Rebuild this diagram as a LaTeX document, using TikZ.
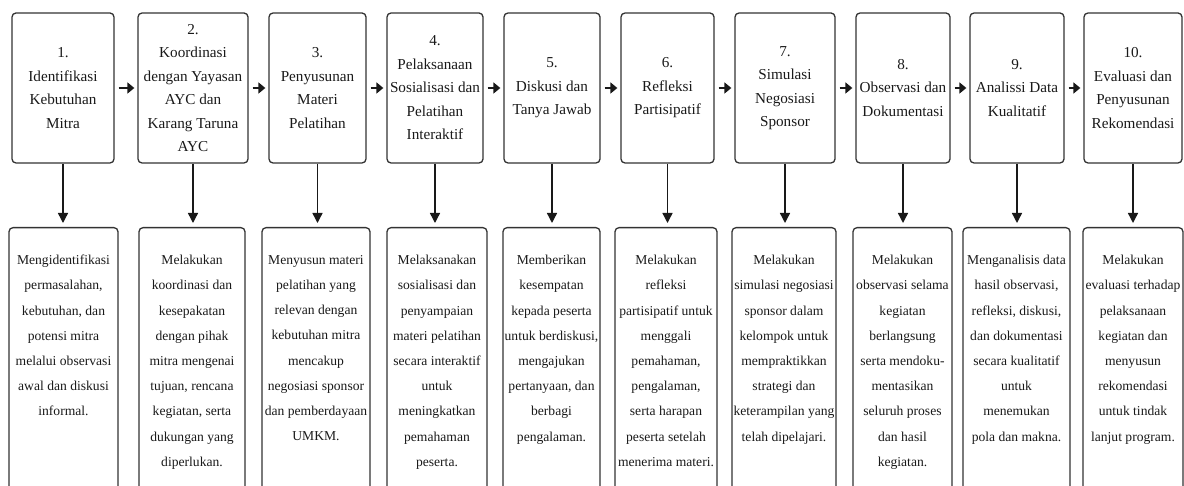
\documentclass[tikz,border=0pt]{standalone}
\usepackage{fontspec}
\setmainfont{Liberation Serif}
\usetikzlibrary{arrows.meta, positioning}

\begin{document}
\begin{tikzpicture}[x=1pt,y=-1pt]
    \tikzstyle{phase box}=[draw=black!80, line width=1.3pt, rounded corners=4pt, inner sep=0pt, minimum height=150pt, align=center, text=black!90, font=\fontsize{15.2}{23.5}\selectfont]
    \tikzstyle{desc box}=[draw=black!80, line width=1.3pt, rounded corners=4pt, inner sep=0pt, minimum height=300pt, anchor=north]
    \tikzstyle{desc text}=[inner sep=0pt, align=center, text=black!90, font=\fontsize{13.6}{25.2}\selectfont]
    \tikzstyle{next arrow}=[-{Triangle[length=7pt,width=11pt]}, line width=2.6pt, black!90, shorten <=4pt, shorten >=3pt]
    \tikzstyle{down arrow}=[-{Triangle[length=10pt,width=10pt]}, line width=1.4pt, black!90, shorten >=4pt]

    \clip (0,0) rectangle (1184,486);

    % Draw the phase boxes
    \foreach \i / \cx / \w / \txt in {
        1/63/102/{1.\\Identifikasi\\Kebutuhan\\Mitra},
        2/193/110/{2.\\Koordinasi\\dengan Yayasan\\AYC dan\\Karang Taruna\\AYC},
        3/317.5/97/{3.\\Penyusunan\\Materi\\Pelatihan},
        4/435/96/{4.\\Pelaksanaan\\Sosialisasi dan\\Pelatihan\\Interaktif},
        5/552/96/{5.\\Diskusi dan\\Tanya Jawab},
        6/667.5/93/{6.\\Refleksi\\Partisipatif},
        7/785/100/{7.\\Simulasi\\Negosiasi\\Sponsor},
        8/903/94/{8.\\Observasi dan\\Dokumentasi},
        9/1017/94/{9.\\Analissi Data\\Kualitatif},
        10/1133/98/{10.\\Evaluasi dan\\Penyusunan\\Rekomendasi}}
        \node[phase box, minimum width=\w pt] (T-\i) at (\cx,88) {\txt};

    % Draw the description boxes
    \foreach \i / \cx / \w / \txt in {
        1/63.5/109/{Mengidentifikasi\\permasalahan,\\kebutuhan, dan\\potensi mitra\\melalui observasi\\awal dan diskusi\\informal.},
        2/192/106/{Melakukan\\koordinasi dan\\kesepakatan\\dengan pihak\\mitra mengenai\\tujuan, rencana\\kegiatan, serta\\dukungan yang\\diperlukan.},
        3/316/108/{Menyusun materi\\pelatihan yang\\relevan dengan\\kebutuhan mitra\\mencakup\\negosiasi sponsor\\dan pemberdayaan\\UMKM.},
        4/437/100/{Melaksanakan\\sosialisasi dan\\penyampaian\\materi pelatihan\\secara interaktif\\untuk\\meningkatkan\\pemahaman\\peserta.},
        5/551.5/97/{Memberikan\\kesempatan\\kepada peserta\\untuk berdiskusi,\\mengajukan\\pertanyaan, dan\\berbagi\\pengalaman.},
        6/666/102/{Melakukan\\refleksi\\partisipatif untuk\\menggali\\pemahaman,\\pengalaman,\\serta harapan\\peserta setelah\\menerima materi.},
        7/784/104/{Melakukan\\simulasi negosiasi\\sponsor dalam\\kelompok untuk\\mempraktikkan\\strategi dan\\keterampilan yang\\telah dipelajari.},
        8/902.5/99/{Melakukan\\observasi selama\\kegiatan\\berlangsung\\serta mendoku-\\mentasikan\\seluruh proses\\dan hasil\\kegiatan.},
        9/1016.5/107/{Menganalisis data\\hasil observasi,\\refleksi, diskusi,\\dan dokumentasi\\secara kualitatif\\untuk\\menemukan\\pola dan makna.},
        10/1133/100/{Melakukan\\evaluasi terhadap\\pelaksanaan\\kegiatan dan\\menyusun\\rekomendasi\\untuk tindak\\lanjut program.}}
    {
        \node[desc box, minimum width=\w pt] (B-\i) at (\cx,227) {};
        \node[desc text, below=28pt of B-\i.north] (D-\i) {\txt};
    }

    % Connect each phase with the next one
    \foreach \i [evaluate=\i as \j using int(\i+1)] in {1,...,9}
        \draw[next arrow] (T-\i.east) -- (T-\j.west);

    % Connect each phase with its description
    \foreach \i in {1,...,10}
        \draw[down arrow] (T-\i.south) -- (T-\i.south |- B-\i.north);
\end{tikzpicture}
\end{document}
